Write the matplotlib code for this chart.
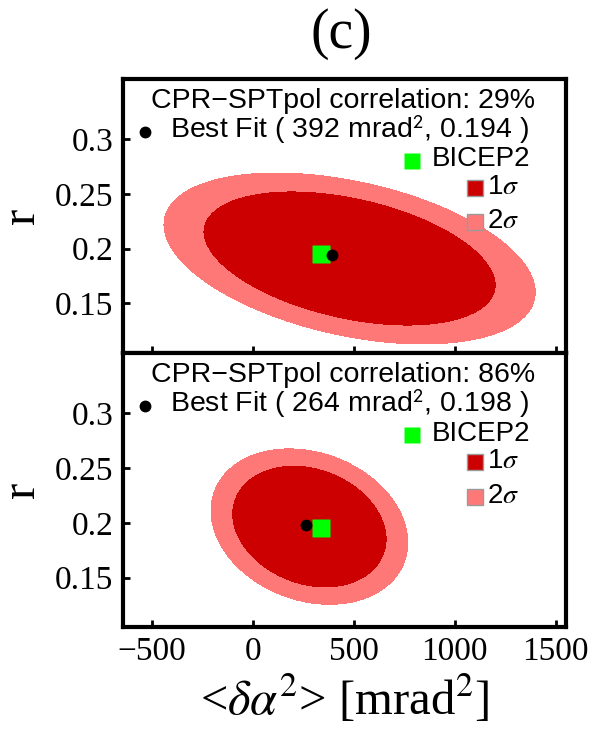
import matplotlib
matplotlib.use('Agg')
import matplotlib.pyplot as plt
import numpy as np

plt.rcParams['font.family'] = ['Liberation Serif', 'DejaVu Serif']
plt.rcParams['mathtext.fontset'] = 'stix'

# values
correlation = [29, 86]
best_fit_x = [392, 264]
best_fit_r = [0.194, 0.198]
bicep2_x = 336
bicep2_r = 0.195

# contour shapes: centre, outer (2 sigma) half widths, tilt, inner/outer ratio
ell_cx = [479, 280]
ell_cr = [0.191, 0.1966]
ell_wx = [919, 487]
ell_wr = [0.078, 0.0709]
ell_rho = [-0.395, -0.205]
inner_ratio = 0.79

x_ticks = [-500, 0, 500, 1000, 1500]
x_ticklabels = ['\u2212500', '0', '500', '1000', '1500']
r_ticks = [0.15, 0.2, 0.25, 0.3]
r_ticklabels = ['0.15', '0.2', '0.25', '0.3']

c_1sig = '#cc0000'
c_2sig = '#ff7878'
c_bicep = '#00ff00'

fig = plt.figure(figsize=(5.89, 7.38), dpi=100)
ax_top = fig.add_axes([0.2088, 0.522, 0.752, 0.3713])
ax_bot = fig.add_axes([0.2088, 0.1504, 0.752, 0.3713])

xg = np.linspace(-700, 1600, 600)
rg = np.linspace(0.09, 0.37, 600)
X, R = np.meshgrid(xg, rg)

sans = 'Liberation Sans'
fs_leg = 20.5

for i, ax in enumerate([ax_top, ax_bot]):
    dx = (X - ell_cx[i]) / ell_wx[i]
    dr = (R - ell_cr[i]) / ell_wr[i]
    rho = ell_rho[i]
    Q = (dx**2 - 2 * rho * dx * dr + dr**2) / (1 - rho**2)
    ax.contourf(X, R, Q, levels=[0, inner_ratio**2, 1.0], colors=[c_1sig, c_2sig])

    ax.plot(bicep2_x, bicep2_r, 's', color=c_bicep, ms=12.5, mec='none', zorder=3)
    ax.plot(best_fit_x[i], best_fit_r[i], 'o', color='black', ms=8.5, mec='none', zorder=4)

    ax.set_xlim(-643, 1550)
    ax.set_ylim(0.105, 0.355)
    ax.set_xticks(x_ticks)
    ax.set_yticks(r_ticks)
    ax.set_yticklabels(r_ticklabels)
    ax.tick_params(direction='in', length=5, width=2, labelsize=24, pad=7,
                   top=False, right=False)
    for sp in ax.spines.values():
        sp.set_linewidth(3)
    ax.set_ylabel('r', fontsize=35, labelpad=8)

    # legend block
    tr = ax.transAxes
    ax.text(0.497, 0.895, 'CPR\u2212SPTpol correlation: %d%%' % correlation[i],
            transform=tr, ha='center', va='baseline', fontsize=fs_leg, family=sans)
    ax.plot(0.05, 0.805, 'o', color='black', ms=7.5, transform=tr, clip_on=False)
    ax.text(0.106, 0.783,
            'Best Fit ( %d mrad$^\\mathsf{2}$, %.3f )' % (best_fit_x[i], best_fit_r[i]),
            transform=tr, ha='left', va='baseline', fontsize=fs_leg, family=sans)
    ax.plot(0.652, 0.700, 's', color=c_bicep, ms=12, mec='none', transform=tr)
    ax.text(0.698, 0.680, 'BICEP2', transform=tr, ha='left', va='baseline',
            fontsize=20, family=sans)
    ax.plot(0.795, 0.602, 's', color=c_1sig, ms=12, mec='#999999', mew=1, transform=tr)
    ax.text(0.822, 0.580, '1$\\sigma$', transform=tr, ha='left', va='baseline',
            fontsize=20, family=sans)
    ax.plot(0.795, 0.476, 's', color=c_2sig, ms=12, mec='#999999', mew=1, transform=tr)
    ax.text(0.822, 0.454, '2$\\sigma$', transform=tr, ha='left', va='baseline',
            fontsize=20, family=sans)

ax_top.set_xticklabels([])
ax_bot.set_xticklabels(x_ticklabels)
ax_bot.set_xlabel('<$\\delta\\alpha^2$> [mrad$^2$]', fontsize=35, labelpad=4)

fig.text(0.58, 0.954, '(c)', ha='center', va='center', fontsize=40)

fig.savefig('out.png', dpi=100)
